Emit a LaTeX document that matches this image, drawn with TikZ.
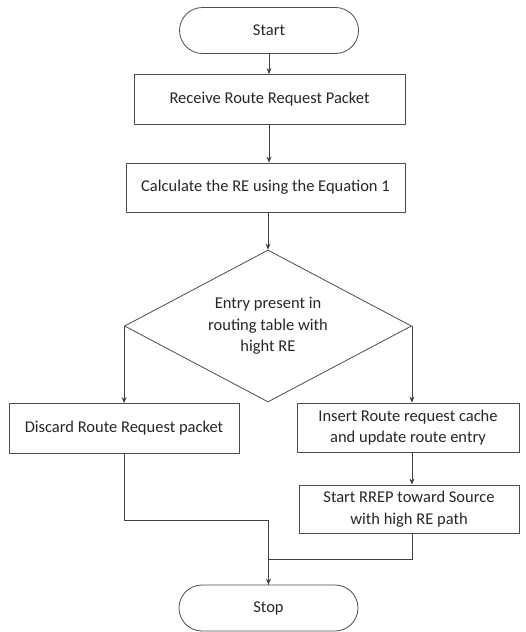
\documentclass[tikz,border=0pt]{standalone}
\usepackage{fontspec}
\setmainfont{Carlito}
\usetikzlibrary{shapes.geometric, arrows.meta, positioning}

\begin{document}
\begin{tikzpicture}[
        x=1pt, y=-1pt,
        % Estilo para inicio y fin
        termbox/.style={
                rectangle,
                rounded corners=23pt,
                draw=black!70,
                line width=0.8pt,
                minimum height=46pt,
                minimum width=179pt,
                text=black!85,
                font=\fontsize{16.5}{21.5}\selectfont
            },
        % Estilo para procesos
        procbox/.style={
                rectangle,
                draw=black!70,
                line width=0.8pt,
                minimum height=50pt,
                align=center,
                text=black!85,
                font=\fontsize{16.5}{21.5}\selectfont
            },
        % Estilo para decision
        decbox/.style={
                diamond,
                shape aspect=1.89,
                draw=black!70,
                line width=0.8pt,
                minimum width=287pt,
                minimum height=152pt,
                inner sep=0pt,
                align=center,
                text=black!85,
                font=\fontsize{16.5}{21.5}\selectfont
            },
        % Conectores
        flow/.style={
                draw=black!75,
                line width=0.8pt,
                -{Stealth[length=6pt, width=5pt]}
            },
        mergeline/.style={
                draw=black!75,
                line width=0.8pt
            }
    ]

    \useasboundingbox (0,0) rectangle (526,632);

    % INICIO
    \node[termbox] (start) at (269,30.5) {Start};

    % Procesos
    \node[procbox, minimum width=271pt] (recv) at (269.5,99.5) {Receive Route Request Packet};
    \node[procbox, minimum width=279pt, minimum height=49pt] (calc) at (265.5,187.5) {Calculate the RE using the Equation 1};

    % Decision
    \node[decbox] (check) at (268,326) {Entry present in\\routing table with\\hight RE};

    % Ramas
    \node[procbox, minimum width=230pt] (discard) at (124,428.5) {Discard Route Request packet};
    \node[procbox, minimum width=222pt, minimum height=49pt] (insert) at (408,427.5) {Insert Route request cache\\and update route entry};
    \node[procbox, minimum width=220pt, minimum height=48pt] (rrep) at (409,509) {Start RREP toward Source\\with high RE path};

    % FIN
    \node[termbox] (stop) at (268.5,608) {Stop};

    % Conexiones
    \draw[flow] (start.south) -- (start.south |- recv.north);
    \draw[flow] (start.south |- recv.south) -- (start.south |- calc.north);
    \draw[flow] (check.north |- calc.south) -- (check.north);
    \draw[flow] (check.west) -- (check.west |- discard.north);
    \draw[flow] (check.east) -- (check.east |- insert.north);
    \draw[flow] (check.east |- insert.south) -- (check.east |- rrep.north);
    \draw[flow] (check.west |- discard.south) -- ++(0,66) -| (stop.north);
    \draw[mergeline] (check.east |- rrep.south) -- ++(0,26) -| (stop.north);

\end{tikzpicture}
\end{document}
